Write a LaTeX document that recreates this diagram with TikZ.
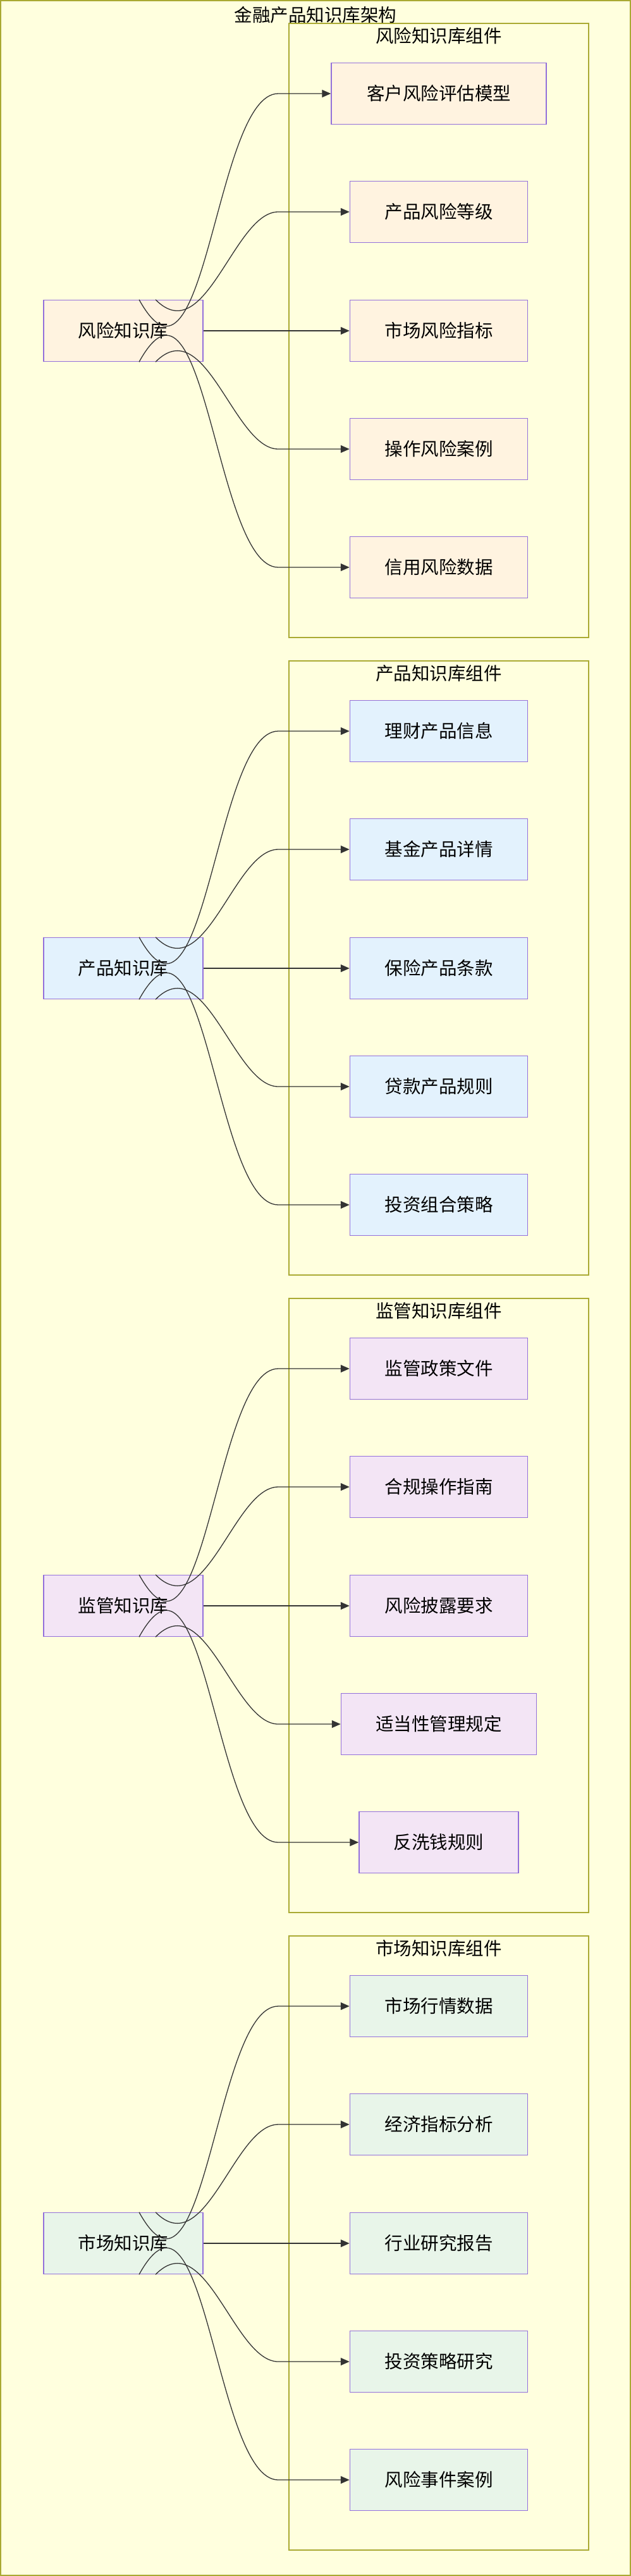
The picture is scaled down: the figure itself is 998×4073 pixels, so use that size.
\documentclass[tikz,border=0pt]{standalone}
\usepackage{fontspec}
\setmainfont{Noto Sans CJK SC}
\usetikzlibrary{arrows.meta}
\definecolor{bgyellow}{HTML}{FFFFDE}
\definecolor{frameol}{HTML}{AAAA33}
\definecolor{nodeborder}{HTML}{9370DB}
\definecolor{riskfill}{HTML}{FFF3E0}
\definecolor{prodfill}{HTML}{E3F2FD}
\definecolor{regfill}{HTML}{F3E5F5}
\definecolor{mktfill}{HTML}{E8F5E9}
\begin{document}
\begin{tikzpicture}[x=1pt,y=-1pt,font=\fontsize{28.5}{32}\selectfont]
\tikzstyle{grp}=[draw=frameol,line width=1.5pt];
\tikzstyle{kb}=[draw=nodeborder,line width=1.5pt,minimum width=252pt,minimum height=97pt,inner sep=0pt];
\tikzstyle{item}=[kb,minimum width=281pt];
\tikzstyle{link}=[-{Triangle[length=14pt,width=12pt]},line width=1.3pt,draw=black!80];
\useasboundingbox (0,0) rectangle (998,4073);
\draw [grp,fill=bgyellow] (1,1) rectangle (997,4072);
\node (title) at (499,24) {金融产品知识库架构};

% risk
\draw [grp] (457,37) rectangle (931,1008);
\node (g1) at (694,57) {风险知识库组件};
\node [kb,fill=riskfill] (m1) at (195,523) {风险知识库};
\node [item,fill=riskfill,minimum width=340pt] (a1) at (694,148) {客户风险评估模型};
\node [item,fill=riskfill] (a2) at (694,335) {产品风险等级};
\node [item,fill=riskfill] (a3) at (694,523) {市场风险指标};
\node [item,fill=riskfill] (a4) at (694,710) {操作风险案例};
\node [item,fill=riskfill] (a5) at (694,897) {信用风险数据};

% product
\draw [grp] (457,1045) rectangle (931,2016);
\node (g2) at (694,1065) {产品知识库组件};
\node [kb,fill=prodfill] (m2) at (195,1531) {产品知识库};
\node [item,fill=prodfill] (b1) at (694,1156) {理财产品信息};
\node [item,fill=prodfill] (b2) at (694,1343) {基金产品详情};
\node [item,fill=prodfill] (b3) at (694,1531) {保险产品条款};
\node [item,fill=prodfill] (b4) at (694,1718) {贷款产品规则};
\node [item,fill=prodfill] (b5) at (694,1905) {投资组合策略};

% regulation
\draw [grp] (457,2053) rectangle (931,3024);
\node (g3) at (694,2073) {监管知识库组件};
\node [kb,fill=regfill] (m3) at (195,2539) {监管知识库};
\node [item,fill=regfill] (c1) at (694,2164) {监管政策文件};
\node [item,fill=regfill] (c2) at (694,2351) {合规操作指南};
\node [item,fill=regfill] (c3) at (694,2539) {风险披露要求};
\node [item,fill=regfill,minimum width=309pt] (c4) at (694,2726) {适当性管理规定};
\node [item,fill=regfill,minimum width=252pt] (c5) at (694,2913) {反洗钱规则};

% market
\draw [grp] (457,3061) rectangle (931,4032);
\node (g4) at (694,3081) {市场知识库组件};
\node [kb,fill=mktfill] (m4) at (195,3547) {市场知识库};
\node [item,fill=mktfill] (d1) at (694,3172) {市场行情数据};
\node [item,fill=mktfill] (d2) at (694,3359) {经济指标分析};
\node [item,fill=mktfill] (d3) at (694,3547) {行业研究报告};
\node [item,fill=mktfill] (d4) at (694,3734) {投资策略研究};
\node [item,fill=mktfill] (d5) at (694,3921) {风险事件案例};

\foreach \m/\t in {m1/a,m2/b,m3/c,m4/d} {
  \draw [link] ([xshift=25pt]\m.north) .. controls ([xshift=130pt,yshift=-190pt]\m.north) and ([xshift=145pt]\m.north |- \t1.west) .. ([xshift=245pt]\m.north |- \t1.west) -- (\t1.west);
  \draw [link] ([xshift=51pt]\m.north) .. controls ([xshift=130pt,yshift=-80pt]\m.north) and ([xshift=175pt]\m.north |- \t2.west) .. ([xshift=245pt]\m.north |- \t2.west) -- (\t2.west);
  \draw [link] (\m.east) -- (\t3.west);
  \draw [link] ([xshift=51pt]\m.south) .. controls ([xshift=130pt,yshift=80pt]\m.south) and ([xshift=175pt]\m.south |- \t4.west) .. ([xshift=245pt]\m.south |- \t4.west) -- (\t4.west);
  \draw [link] ([xshift=25pt]\m.south) .. controls ([xshift=130pt,yshift=190pt]\m.south) and ([xshift=145pt]\m.south |- \t5.west) .. ([xshift=245pt]\m.south |- \t5.west) -- (\t5.west);
}
\end{tikzpicture}
\end{document}
